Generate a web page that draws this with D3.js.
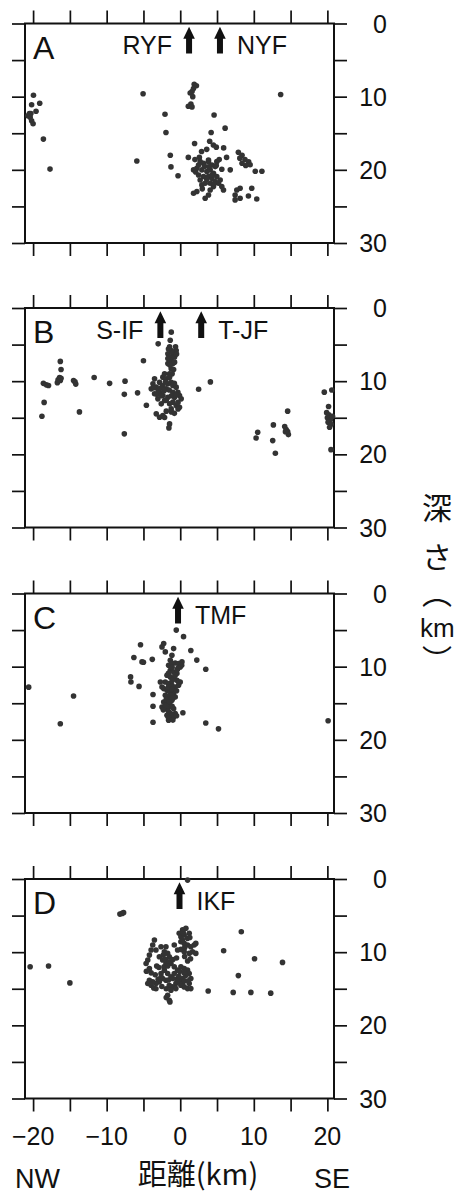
<!DOCTYPE html>
<html><head><meta charset="utf-8">
<script src="https://cdn.jsdelivr.net/npm/d3@7"></script>
<style>
html,body{margin:0;padding:0;background:#fff;}
svg{display:block;}
text{font-family:"Liberation Sans","Noto Sans CJK JP",sans-serif;fill:#111;}
.cjk{font-family:"Noto Sans CJK JP",sans-serif;}
</style></head>
<body>
<script>
// ---------------- data ----------------
const panelLetters = ["A", "B", "C", "D"];
const xTicks = [-20, -15, -10, -5, 0, 5, 10, 15, 20];
const xTickLabels = [-20, -10, 0, 10, 20];
const yTicks = [0, 5, 10, 15, 20, 25, 30];
const yTickLabels = [0, 10, 20, 30];

// faults: panel index, name, distance km, side of label
const faultPanel = [0, 0, 1, 1, 2, 3];
const faultNames = ["RYF", "NYF", "S-IF", "T-JF", "TMF", "IKF"];
const faultX = [1.2, 5.4, -2.7, 2.85, -0.3, -0.1];
const faultSide = ["left", "right", "left", "right", "right", "right"];

// hypocentres [distance km, depth km]
const quakesA = [
 [-19.95,9.8],[-20.2,11.1],[-19.1,10.9],[-19.6,12.0],[-20.5,12.3],[-20.7,12.6],[-20.4,12.8],[-20.2,13.3],[-20.0,13.7],[-20.3,12.3],
 [-18.6,15.8],[-17.7,19.9],[-5.05,9.6],[-5.9,18.8],[13.65,9.7],[-2.07,12.4],[-1.94,14.9],[-1.35,18.0],[-1.26,19.6],[-0.3,20.8],
 [1.9,8.3],[2.2,8.5],[1.8,8.9],[1.6,9.3],[1.35,9.5],[1.7,10.0],[1.45,11.0],[1.1,11.3],[1.6,11.4],
 [4.6,12.5],[4.2,14.9],[6.1,14.3],
 [1.95,16.4],[4.0,16.1],[4.5,16.6],[4.9,16.9],[5.9,17.0],[2.9,17.5],[3.6,17.2],[1.1,18.3],[2.0,18.6],
 [7.9,17.6],[8.4,18.0],[8.1,18.4],[8.8,18.6],[9.3,18.9],[9.5,19.3],[8.4,19.1],[10.2,20.2],[11.1,20.2],[6.8,20.0],[6.3,18.3],[5.3,18.6],
 [2.71,18.88],[3.17,19.1],[3.84,18.88],[4.3,19.33],[4.75,19.56],[2.26,19.79],[1.81,20.01],[2.94,20.01],[3.62,20.24],[4.07,20.01],
 [4.52,20.47],[2.49,20.7],[3.17,20.92],[3.84,20.92],[4.3,21.15],[4.97,20.92],[4.75,21.61],[5.2,21.83],[5.43,21.38],[2.71,21.38],
 [2.94,22.06],[3.39,21.83],[4.07,21.83],[4.52,22.29],[5.65,22.29],[5.88,22.75],[2.26,22.97],[1.81,23.2],[4.07,22.75],[3.84,23.43],
 [3.39,23.88],[7.69,22.75],[8.14,22.52],[7.46,23.43],[7.46,24.11],[8.14,23.88],[9.27,23.57],[9.72,22.52],[10.4,23.98],
 [3.84,18.65],[4.97,18.88],[2.49,19.33],[5.65,19.92],
 [3.3,19.5],[2.1,20.3],[4.3,20.7],[3.6,21.3],[3.0,22.6],[4.9,19.4],[2.6,18.3],[8.9,19.4],[3.9,19.6],[4.6,21.9]
];
const quakesB = [
 [-18.6,10.3],[-18.2,10.5],[-17.9,10.6],[-16.3,7.3],[-16.2,8.4],[-16.4,9.5],[-16.6,9.8],[-16.7,10.2],[-16.3,9.9],[-16.2,9.6],
 [-14.5,9.9],[-14.3,10.1],[-14.2,10.4],[-18.5,12.9],[-18.8,14.8],[-13.7,14.2],[-11.7,9.5],[-9.6,10.3],[-7.5,10.0],[-7.6,11.8],
 [-7.6,17.2],[-5.8,11.6],[-5.0,7.2],[-4.6,13.3],[-3.0,4.9],[2.5,11.1],[4.1,10.1],
 [-1.22,3.3],[-1.36,4.4],[-1.45,5.3],[-1.23,5.8],[-1.0,6.25],[-1.68,6.25],[-1.45,6.7],[-0.77,6.7],[-1.23,7.16],[-1.0,7.6],
 [-1.68,7.6],[-0.55,5.8],[-0.77,7.4],[-1.23,8.3],[-1.45,9.0],[-1.68,6.9],[-0.64,5.3],
 [-1.1,6.0],[-1.4,7.8],[-0.9,8.4],[-1.1,9.0],[-0.5,6.3],[-1.6,5.6],
 [-3.49,9.68],[-3.71,10.36],[-3.94,11.05],[-3.26,10.82],[-2.81,10.14],[-2.36,9.45],[-2.13,8.99],[-1.9,9.68],[-1.45,9.45],
 [-1.23,10.14],[-1.0,10.59],[-0.55,10.82],[-0.32,11.51],[-0.1,11.96],[0.13,12.42],[-0.77,12.19],[-1.0,12.87],[-0.55,13.33],
 [-0.1,13.56],[-2.81,11.51],[-2.36,11.96],[-1.9,11.05],[-1.68,12.19],[-1.45,13.1],[-1.23,13.79],[-2.13,12.64],[-2.58,13.1],
 [-3.04,12.42],[-3.49,11.73],[-1.68,10.36],[-2.36,10.59],[-1.0,11.51],[-3.26,14.47],[-2.81,14.93],[-2.36,14.7],[-2.13,14.96],
 [-1.45,15.84],[-1.54,16.39],
 [-3.0,11.3],[-2.6,10.9],[-2.2,11.3],[-1.9,12.6],[-1.2,12.0],[-0.6,11.9],[-0.3,12.9],[-2.0,10.1],[-3.2,11.8],[-2.6,12.0],
 [-1.5,11.2],[-0.8,10.3],[-3.6,10.9],[-1.2,14.2],[-0.8,14.4],[-0.3,13.8],[-1.9,14.1],
 [14.6,14.1],[12.66,15.98],[10.53,16.98],[10.31,17.76],[12.57,18.12],[12.93,19.86],[14.2,16.2],[14.4,16.6],[14.6,16.9],[14.7,17.3],[14.3,16.9],
 [19.58,11.5],[20.6,11.2],[20.16,13.47],[19.9,14.3],[20.2,14.6],[20.0,15.0],[20.4,15.3],[20.1,15.6],[20.5,15.9],[20.3,16.3],[20.7,14.8],[20.49,19.36]
];
const quakesC = [
 [-20.6,12.8],[-14.5,14.0],[-16.3,17.8],[20.1,17.4],[-0.54,5.0],[0.45,5.9],[-5.4,7.0],[-6.3,8.75],[-5.2,9.35],[-5.0,9.4],[-3.8,9.0],
 [-2.25,6.84],[-2.48,7.3],[-2.03,7.98],[-0.9,7.53],[-1.13,8.44],[-1.35,9.12],[1.44,7.8],[2.25,9.1],[3.47,10.35],
 [-6.75,11.4],[-6.7,12.1],[-5.6,12.7],[-3.7,13.8],[-3.7,15.4],[-3.7,17.6],[0.36,16.3],[3.47,17.7],[5.2,18.5],
 [-1.58,9.81],[-1.13,9.58],[-0.68,9.49],[-0.23,9.58],[0,10.04],[0.23,9.35],[-1.35,10.49],[-0.9,10.72],[-0.45,10.95],[-1.8,11.18],
 [-1.35,11.4],[-0.9,11.63],[-0.45,11.86],[0,12.09],[-2.03,12.09],[-1.58,12.32],[-1.13,12.54],[-0.68,12.77],[-0.23,12.54],[-2.25,13.0],
 [-1.8,13.23],[-1.35,13.46],[-0.9,13.68],[-2.03,13.91],[-1.58,14.37],[-1.13,14.6],[-0.68,14.14],[-2.25,14.82],[-1.8,15.05],[-1.35,15.28],
 [-2.48,15.51],[-2.03,15.74],[-1.58,15.51],[-0.9,15.74],[-1.8,16.65],[-1.35,16.88],[-0.9,16.88],[-1.58,17.33],[-1.13,17.1],[-0.68,16.42],
 [-2.7,12.09],[-2.48,12.77],
 [-1.1,10.1],[-0.4,10.4],[-1.6,10.9],[-0.7,11.2],[-1.1,11.9],[-1.6,12.8],[-1.1,13.1],[-0.5,13.3],[-1.2,13.9],[-1.8,14.0],
 [-1.0,14.3],[-1.9,14.5],[-1.5,14.8],[-2.0,15.3],[-1.1,15.4],[-2.3,15.9],[-1.6,16.1],[-1.3,16.4],[-1.1,16.6],[-1.6,17.0],
 [-1.0,17.3],[-0.5,16.7],[-0.2,12.1],[0.2,9.8],[-0.3,10.2]
];
const quakesD = [
 [-20.4,12.0],[-17.9,11.9],[-15.0,14.2],[-8.2,4.8],[-7.9,4.7],[-7.7,4.6],[1.0,0.15],[8.3,7.2],[5.9,9.8],[10.1,10.9],[13.9,11.4],
 [7.9,13.2],[3.8,15.3],[7.2,15.5],[9.6,15.5],[12.3,15.6],[-1.9,16.2],[-1.4,16.8],
 [0.32,6.96],[0.77,6.73],[-0.14,7.42],[0.09,7.88],[0.54,7.65],[0.99,8.11],[1.22,7.42],[0.09,8.57],[0.54,8.8],[0.99,9.02],[1.44,9.25],
 [1.89,9.02],[2.12,8.8],[1.67,9.94],[2.12,10.17],[1.22,10.17],[0.54,9.94],[0.09,9.62],
 [-3.51,8.34],[-3.74,9.02],[-3.96,9.71],[-4.19,10.4],[-4.41,11.08],[-4.64,11.54],[-4.19,12.23],[-3.96,12.83],
 [-2.61,9.25],[-1.94,9.25],[-2.16,9.94],[-1.71,10.17],[-1.49,10.63],[-0.81,9.02],[-0.36,9.71],[-2.84,10.63],[-2.39,11.08],[-1.94,11.54],
 [-1.26,11.54],[-0.81,12.0],[-0.36,12.46],[0.09,12.0],[0.54,12.23],[0.99,12.46],[1.22,12.92],[0.77,13.15],[0.32,13.6],[-0.14,14.06],
 [-0.59,14.29],[-1.04,14.75],[-1.49,14.52],[-1.94,13.83],[-2.39,13.6],[-2.84,14.06],[-3.29,14.29],[-3.74,14.06],[-4.19,13.83],[-4.41,14.29],
 [-3.96,14.52],[-2.61,12.92],[-2.16,12.46],[-1.71,12.92],[-1.26,13.37],[-0.81,12.92],[-0.36,13.6],[0.09,14.52],[0.54,14.75],[0.99,14.98],
 [1.22,14.29],[1.44,13.6],[1.44,14.98],[-0.59,14.98],[-1.26,15.21],[-1.71,15.89],[-1.49,16.58],
 [-2.3,10.4],[-2.0,11.0],[-1.5,11.3],[-1.0,11.0],[-0.5,10.8],[-2.2,12.0],[-1.7,11.9],[-2.9,12.1],[-2.6,13.4],[-3.4,13.1],
 [-3.0,13.7],[-1.6,13.8],[-1.0,13.6],[-0.4,14.0],[0.3,14.3],[0.6,13.9],[1.1,13.9],[-0.1,12.6],[0.5,12.8],[-0.2,13.3],
 [1.0,11.2],[0.6,10.6],[1.4,10.9],[-3.3,15.0],[-2.5,14.7],[-1.9,15.0],[-3.6,14.9],[0.3,8.3],[1.3,8.0],[0.6,9.4],
 [0.4,7.3],[-3.3,9.7],[-4.6,12.6],[-3.2,11.9]
];
const quakes = [quakesA, quakesB, quakesC, quakesD];

// ---------------- drawing ----------------
const W = 458, H = 1196;
const svg = d3.select("body").append("svg").attr("width", W).attr("height", H);

const x = d3.scaleLinear().domain([-21.1, 20.9]).range([25, 334]);
const panelTops = [23.5, 308, 593.5, 879];
const panelH = 219.5;
const tick = 13;

panelTops.forEach((top, i) => {
  const y = d3.scaleLinear().domain([0, 30]).range([top, top + panelH]);
  const g = svg.append("g");

  const axes = [
    [d3.axisTop(x).tickValues(xTicks), `translate(0,${top})`],
    [d3.axisBottom(x).tickValues(xTicks), `translate(0,${top + panelH})`],
    [d3.axisLeft(y).tickValues(yTicks), `translate(${x.range()[0]},0)`],
    [d3.axisRight(y).tickValues(yTicks), `translate(${x.range()[1]},0)`]
  ];
  axes.forEach(([ax, tr]) => {
    const a = g.append("g").attr("transform", tr)
      .call(ax.tickSize(tick).tickFormat(""));
    a.select(".domain").remove();
    a.selectAll(".tick line").attr("stroke", "#111").attr("stroke-width", 1.7);
  });

  g.append("rect")
    .attr("x", x.range()[0]).attr("y", top)
    .attr("width", x.range()[1] - x.range()[0]).attr("height", panelH)
    .attr("fill", "none").attr("stroke", "#111").attr("stroke-width", 2);

  g.selectAll(".dl").data(yTickLabels).join("text")
    .attr("x", 387).attr("y", d => y(d))
    .attr("dy", "0.36em").attr("text-anchor", "end")
    .attr("font-size", 25).text(d => d);

  g.append("g").selectAll("circle").data(quakes[i]).join("circle")
    .attr("cx", d => x(d[0])).attr("cy", d => y(d[1]))
    .attr("r", 2.8).attr("fill", "#333");

  g.append("text").attr("x", 33).attr("y", top + 35)
    .attr("font-size", 32).text(panelLetters[i]);

  faultNames.forEach((name, k) => {
    if (faultPanel[k] !== i) return;
    const fx = x(faultX[k]);
    const yt = y(0.45), yb = y(4.1);
    const hw = 5.8, sw = 3, hh = 12;
    g.append("path")
      .attr("d", `M${fx},${yt} L${fx + hw},${yt + hh} L${fx + sw},${yt + hh} L${fx + sw},${yb} L${fx - sw},${yb} L${fx - sw},${yt + hh} L${fx - hw},${yt + hh} Z`)
      .attr("fill", "#111");
    const left = faultSide[k] === "left";
    g.append("text")
      .attr("x", left ? fx - 17 : fx + 17)
      .attr("y", y(4.2))
      .attr("text-anchor", left ? "end" : "start")
      .attr("font-size", 25).text(name);
  });

  if (i === 3) {
    svg.append("g").selectAll("text").data(xTickLabels).join("text")
      .attr("x", d => x(d)).attr("y", top + panelH + 37.5)
      .attr("dy", "0.36em").attr("text-anchor", "middle")
      .attr("font-size", 25).text(d => d < 0 ? "\u2212" + Math.abs(d) : d);
  }
});

// bottom axis titles
svg.append("text").attr("x", 15).attr("y", 1188).attr("font-size", 27).text("NW");
svg.append("text").attr("x", 332).attr("y", 1188).attr("text-anchor", "middle").attr("font-size", 27).text("SE");
svg.append("text").attr("class", "cjk").attr("x", 198).attr("y", 1185).attr("text-anchor", "middle")
  .attr("font-size", 29).text("距離(km)");

// vertical right title 深さ（km）: each glyph centred on its ink box
const ctx = document.createElement("canvas").getContext("2d");
function placeCentered(ch, cx, cy, size, family) {
  ctx.font = `${size}px ${family}`;
  const m = ctx.measureText(ch);
  const left = -m.actualBoundingBoxLeft, right = m.actualBoundingBoxRight;
  const topI = -m.actualBoundingBoxAscent, botI = m.actualBoundingBoxDescent;
  svg.append("text")
    .style("font-family", family)
    .attr("font-size", size)
    .attr("x", cx - (left + right) / 2)
    .attr("y", cy - (topI + botI) / 2)
    .text(ch);
}
const tx = 437;
placeCentered("深", tx, 508, 30, "'Noto Sans CJK JP'");
placeCentered("さ", tx, 557, 30, "'Noto Sans CJK JP'");
placeCentered("\uFE35", tx, 603, 30, "'Noto Sans CJK JP'");
placeCentered("km", tx, 627, 26, "'Liberation Sans'");
placeCentered("\uFE36", tx, 649, 30, "'Noto Sans CJK JP'");
</script>
</body></html>
